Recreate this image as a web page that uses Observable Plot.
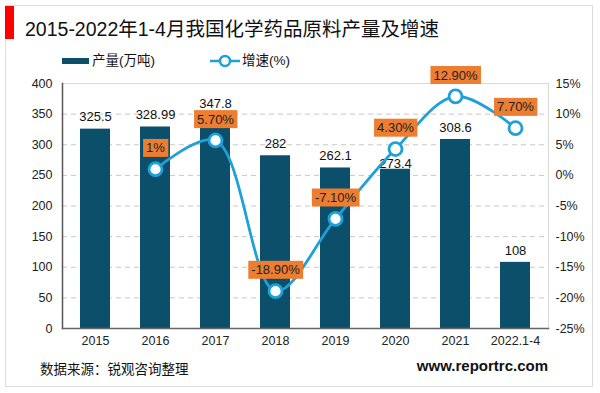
<!DOCTYPE html>
<html><head><meta charset="utf-8">
<script src="https://cdn.jsdelivr.net/npm/d3@7"></script>
<script src="https://cdn.jsdelivr.net/npm/@observablehq/plot@0.6"></script>
<style>
body{margin:0;background:#fff;font-family:"Liberation Sans","Noto Sans CJK SC",sans-serif;}
#wrap{position:relative;width:600px;height:393px;overflow:hidden;}
#card{position:absolute;left:5px;top:5px;width:588px;height:382px;border:1px solid #dcdcdc;box-sizing:border-box;}
#redbar{position:absolute;left:5px;top:6px;width:9px;height:33px;background:#ff0000;}
#title{position:absolute;left:25px;top:13px;font-size:19.5px;color:#111;white-space:nowrap;font-family:"Liberation Sans","Noto Sans CJK SC",sans-serif;}
.leg{position:absolute;top:49px;font-size:13.5px;color:#111;white-space:nowrap;}
#src{position:absolute;left:40px;top:358px;font-size:13.5px;color:#111;}
#web{position:absolute;right:52px;top:357px;font-size:15px;font-weight:bold;color:#111;}
#chart{position:absolute;left:0;top:0;}
</style></head>
<body><div id="wrap">
<div id="card"></div><div id="redbar"></div>
<div id="title">2015-2022年1-4月我国化学药品原料产量及增速</div>
<div class="leg" style="left:62px"><span style="display:inline-block;width:27px;height:6px;background:#0c4f6b;vertical-align:middle;margin-right:3px"></span>产量(万吨)</div>
<div class="leg" style="left:210px"><svg width="30" height="14" style="vertical-align:middle;margin-right:2px"><line x1="0" y1="7" x2="30" y2="7" stroke="#1ea0d8" stroke-width="2.5"/><circle cx="15" cy="7" r="5" fill="#fff" stroke="#1ea0d8" stroke-width="2.5"/></svg>增速(%)</div>
<div id="chart"></div>
<div id="src">数据来源：锐观咨询整理</div>
<div id="web">www.reportrc.com</div>
</div>
<script>
const categories = ["2015","2016","2017","2018","2019","2020","2021","2022.1-4"];
const outputBars = [325.5, 328.99, 328, 282, 262.1, 260, 308.6, 108];
const outputLabels = ["325.5","328.99","347.8","282","262.1","273.4","308.6","108"];
const growth = [null, 1.0, 5.7, -18.9, -7.1, 4.3, 12.9, 7.7];
const growthLabels = [null, "1%", "5.70%", "-18.90%", "-7.10%", "4.30%", "12.90%", "7.70%"];
const leftTicks = [0,50,100,150,200,250,300,350,400];
const rightTicks = [-25,-20,-15,-10,-5,0,5,10,15];

const toLeft = p => (p + 25) * 10;
const bars = categories.map((c,i)=>({cat:c, v:outputBars[i], label:outputLabels[i], lv:+outputLabels[i]}));
const pts = categories.map((c,i)=>({cat:c, g:growth[i], label:growthLabels[i]})).filter(d=>d.g!=null);

const blue = "#1ea0d8";
const chart = Plot.plot({
  width:600, height:393,
  marginTop:83, marginBottom:65, marginLeft:62, marginRight:52,
  style:{fontFamily:"Liberation Sans, sans-serif", fontSize:"12.5px", color:"#222", background:"transparent"},
  x:{domain:categories, paddingInner:0.5, paddingOuter:0.25, label:null},
  y:{domain:[0,400], label:null},
  marks:[
    Plot.ruleY(leftTicks.filter(t=>t>0&&t<400), {stroke:"#c8c8c8", strokeDasharray:"5,4"}),
    Plot.ruleY([400], {stroke:"#d9d9d9"}),
    Plot.barY(bars, {x:"cat", y:"v", fill:"#0c4f6b"}),
    Plot.axisX({tickSize:0, tickPadding:8, fontSize:12.5}),
    Plot.axisY({ticks:leftTicks, tickSize:0, tickPadding:10, fontSize:12.5}),
    Plot.axisY({anchor:"right", ticks:rightTicks.map(toLeft), tickFormat:v=>(v/10-25)+"%", tickSize:0, tickPadding:7, fontSize:12.5}),
    Plot.frame({anchor:"left", stroke:"#555", strokeWidth:1.5}),
    Plot.frame({anchor:"right", stroke:"#d9d9d9"}),
    Plot.frame({anchor:"bottom", stroke:"#666", strokeWidth:1.5}),
    Plot.text(bars.filter(d=>d.cat!=="2020"), {x:"cat", y:"lv", text:"label", dy:-12, fill:"#111", fontSize:13}),
    Plot.text(bars.filter(d=>d.cat==="2020"), {x:"cat", y:"lv", text:"label", dy:3, fill:"#111", fontSize:13}),
    Plot.line(pts, {x:"cat", y:d=>toLeft(d.g), stroke:blue, strokeWidth:2.8, curve:"catmull-rom"}),
    Plot.dot(pts, {x:"cat", y:d=>toLeft(d.g), r:6.5, fill:"#fff", stroke:blue, strokeWidth:2.8}),
    Plot.text(pts, {x:"cat", y:d=>toLeft(d.g), text:"label", dy:-21, fill:"#222", fontSize:13})
  ]
});
document.getElementById("chart").appendChild(chart);
const labelSet = new Set(growthLabels.filter(Boolean));
const SVGNS = "http://www.w3.org/2000/svg";
Array.from(chart.querySelectorAll("text")).forEach(t => {
  if (!labelSet.has(t.textContent.trim())) return;
  const b = t.getBBox();
  const r = document.createElementNS(SVGNS, "rect");
  r.setAttribute("x", b.x - 3);
  r.setAttribute("y", b.y - 1.5);
  r.setAttribute("width", b.width + 6);
  r.setAttribute("height", b.height + 3);
  r.setAttribute("fill", "#ed7d31");
  const tr = t.getAttribute("transform");
  if (tr) r.setAttribute("transform", tr);
  t.parentNode.insertBefore(r, t);
});
</script>
</body></html>
